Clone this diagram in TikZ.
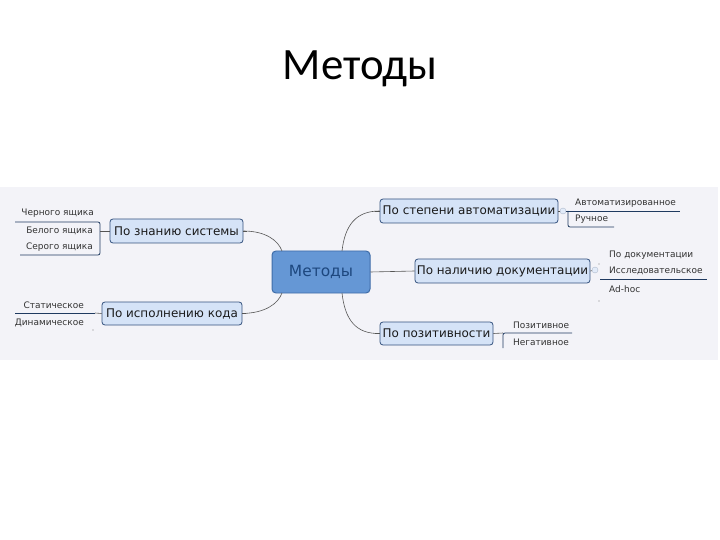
\documentclass[tikz,border=0pt]{standalone}
\usepackage{fontspec}
\setmainfont{Carlito}
\newfontfamily\mmfont{DejaVu Sans}
\definecolor{mapbg}{HTML}{F3F3F8}
\definecolor{cfill}{HTML}{6597D5}
\definecolor{cdraw}{HTML}{3E6CA8}
\definecolor{ctext}{HTML}{1D477E}
\definecolor{sfill}{HTML}{D5E3F7}
\definecolor{sdraw}{HTML}{34527E}
\definecolor{stext}{HTML}{1A1A1A}
\definecolor{lnk}{HTML}{555555}
\definecolor{brk}{HTML}{1F3A60}
\tikzset{
  central/.style={draw=cdraw, fill=cfill, line width=1pt, rounded corners=4pt,
    minimum width=98bp, minimum height=42bp, inner sep=0pt,
    font=\mmfont\fontsize{15.5}{18}\selectfont, text=ctext},
  topic/.style={draw=sdraw, fill=sfill, line width=0.8pt, rounded corners=3pt,
    minimum height=24bp, inner sep=0pt,
    font=\mmfont\fontsize{12}{14}\selectfont, text=stext},
  leaf/.style={inner sep=0pt, font=\mmfont\fontsize{9}{11}\selectfont, text=black!80},
  link/.style={draw=lnk, line width=0.6pt},
  bracket/.style={draw=brk, line width=0.8pt, rounded corners=2pt},
  knob/.style={circle, fill=sfill!70!white, draw=sdraw!40, line width=0.4pt, minimum size=6bp, inner sep=0pt},
  speck/.style={circle, fill=black!50, minimum size=1.2bp, inner sep=0pt}
}
\begin{document}
\begin{tikzpicture}[x=1bp, y=-1bp]
\useasboundingbox (0,0) rectangle (720,540);
\fill[white] (0,0) rectangle (720,540);
\fill[mapbg] (0,187) rectangle (718,360);

\node[font=\fontsize{45}{52}\selectfont] (title) at (360,69) {Методы};

% central and topics
\node[central] (c) at (321,272) {Методы};
\node[topic, minimum width=133bp] (zn) at (176.5,231) {По знанию системы};
\node[topic, minimum width=140bp, minimum height=23bp] (isp) at (172,313.5) {По исполнению кода};
\node[topic, minimum width=178bp] (st) at (469,211) {По степени автоматизации};
\node[topic, minimum width=175bp] (nal) at (502.5,271) {По наличию документации};
\node[topic, minimum width=113bp, minimum height=23bp] (poz) at (436.5,333.5) {По позитивности};

% connectors from central
\coordinate (cnw) at (282,251);
\coordinate (csw) at (282,293);
\coordinate (cne) at (342,251);
\coordinate (cse) at (342,293);
\draw[link] (zn.east) .. controls (265,231) and (278,240) .. (cnw);
\draw[link] (isp.east) .. controls (265,313) and (278,304) .. (csw);
\draw[link] (cne) .. controls (345,225) and (356,211) .. (st.west);
\draw[link] (c.east) -- (nal.west);
\draw[link] (cse) .. controls (345,320) and (356,334) .. (poz.west);

% small ticks on topic sides
\draw[link] (st.west) -- ++(-5,0);
\draw[link] (poz.west) -- ++(-5,0);
\draw[link] (zn.east) -- ++(4,0);
\draw[link] (isp.east) -- ++(4,0);

% left group: По знанию системы
\node[leaf, anchor=east] (a1) at (94,213) {Черного ящика};
\node[leaf, anchor=east] (a2) at (93,231) {Белого ящика};
\node[leaf, anchor=east] (a3) at (93,247) {Серого ящика};
\draw[bracket] (15,222) -- (100,222) -- (100,255) -- (20,255);
\draw[link] (zn.west) -- (100,231);

% left group: По исполнению кода
\node[leaf, anchor=east] (b1) at (84,305) {Статическое};
\node[leaf, anchor=east] (b2) at (84,323) {Динамическое};
\draw[bracket] (15,313) -- (95,313);
\draw[link] (isp.west) -- (95,313);
\node[speck] (bs) at (93,330) {};

% right group: По степени автоматизации
\node[knob] (k1) at (563,211) {};
\draw[link] (st.east) -- (k1);
\node[leaf, anchor=west] (r1) at (575,203) {Автоматизированное};
\node[leaf, anchor=west] (r2) at (575,219) {Ручное};
\draw[bracket] (k1.east) -- (680,211);
\draw[bracket] (568,211) -- (568,227) -- (614,227);

% right group: По наличию документации
\node[knob] (k2) at (595,270) {};
\draw[link] (nal.east) -- (k2);
\node[leaf, anchor=west] (d1) at (609,255) {По документации};
\node[leaf, anchor=west] (d2) at (609,271) {Исследовательское};
\node[leaf, anchor=west] (d3) at (609,289) {Ad-hoc};
\draw[bracket] (600,279) -- (707,279);
\node[speck] (ds1) at (599,264) {};
\node[speck] (ds2) at (599,301) {};

% right group: По позитивности
\node[leaf, anchor=west] (p1) at (513,325) {Позитивное};
\node[leaf, anchor=west] (p2) at (513,342) {Негативное};
\draw[link] (poz.east) -- (503,333);
\draw[bracket] (572,333) -- (503,333) -- (503,348);
\end{tikzpicture}
\end{document}
